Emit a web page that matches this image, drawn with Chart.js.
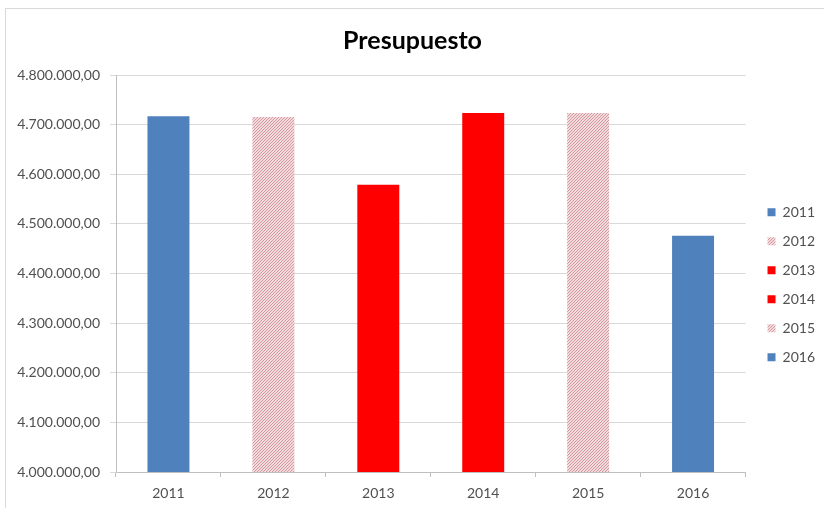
<!DOCTYPE html>
<html lang="es">
<head>
    <meta charset="UTF-8">
    <title>Presupuesto</title>
    <style>
        html, body { margin: 0; padding: 0; background: #fff; overflow: hidden; }
        #wrap { position: relative; width: 824px; height: 508px; overflow: hidden; }
        #frame { position: absolute; left: 5px; top: 8px; width: 870px; height: 530px; border: 1px solid #d9d9d9; pointer-events: none; }
        canvas { position: absolute; left: 0; top: 0; }
    </style>
</head>
<body>
<div id="wrap">
    <div id="frame"></div>
    <canvas id="chart" width="840" height="508"></canvas>
</div>

<script src="https://cdn.jsdelivr.net/npm/chart.js"></script>
<script>
    // datos
    const years = ['2011', '2012', '2013', '2014', '2015', '2016'];
    const budget = [4716700, 4715500, 4578600, 4723600, 4723600, 4476000];
    const yMin = 4000000;
    const yMax = 4800000;
    const yStep = 100000;

    const fontFamily = 'Lato, "Open Sans", sans-serif';
    const textColor = '#505050';

    // relleno rayado (diagonal hacia arriba), rosa palido
    function hatchPattern() {
        const c = document.createElement('canvas');
        c.width = 3;
        c.height = 3;
        const g = c.getContext('2d');
        g.fillStyle = '#f2dadc';
        g.fillRect(0, 0, 3, 3);
        g.fillStyle = '#d49aa0';
        for (let i = 0; i < 3; i++) {
            g.fillRect(i, 2 - i, 1, 1);
        }
        return g.createPattern(c, 'repeat');
    }

    const blue = '#4f81bd';
    const red = '#ff0000';
    const hatch = hatchPattern();
    const fills = [blue, hatch, red, red, hatch, blue];

    function fmt(v) {
        const s = Math.round(v).toString().replace(/\B(?=(\d{3})+(?!\d))/g, '.');
        return s + ',00';
    }

    const ctx = document.getElementById('chart');

    new Chart(ctx, {
        type: 'bar',
        data: {
            labels: years,
            datasets: [
                {
                    label: 'Presupuesto',
                    data: budget,
                    backgroundColor: fills,
                    borderWidth: 0,
                    barPercentage: 0.4,
                    categoryPercentage: 1
                }
            ]
        },
        options: {
            responsive: false,
            animation: false,
            layout: { padding: { left: 0, right: 15, top: 0, bottom: 0 } },
            plugins: {
                title: {
                    display: true,
                    text: 'Presupuesto',
                    color: '#000',
                    font: { family: fontFamily, size: 25, weight: 'bold' },
                    padding: { top: 26, bottom: 19 }
                },
                legend: {
                    position: 'right',
                    align: 'center',
                    fullSize: false,
                    onClick: null,
                    title: { display: true, text: '', padding: { top: 8, bottom: 0 } },
                    labels: {
                        boxWidth: 8,
                        boxHeight: 8,
                        padding: 15,
                        color: textColor,
                        font: { family: fontFamily, size: 14 },
                        generateLabels: () => years.map((y, i) => ({
                            text: y,
                            fillStyle: fills[i],
                            strokeStyle: 'rgba(0,0,0,0)',
                            lineWidth: 0,
                            hidden: false,
                            index: i,
                            fontColor: textColor
                        }))
                    }
                },
                tooltip: { enabled: false }
            },
            scales: {
                x: {
                    grid: { drawOnChartArea: false, drawTicks: true, tickLength: 5, color: '#bfbfbf' },
                    border: { color: '#bfbfbf' },
                    ticks: { color: textColor, font: { family: fontFamily, size: 14 }, padding: 8 },
                    afterFit: s => { s.height = 36; }
                },
                y: {
                    min: yMin,
                    max: yMax,
                    grid: { color: '#d9d9d9', tickLength: 6 },
                    border: { color: '#bfbfbf' },
                    ticks: {
                        stepSize: yStep,
                        color: textColor,
                        font: { family: fontFamily, size: 14 },
                        padding: 10,
                        callback: v => fmt(v)
                    },
                    afterFit: s => { s.width = 116; }
                },
                // hueco entre el area de trazado y la leyenda
                gap: {
                    position: 'right',
                    display: true,
                    grid: { display: false },
                    border: { display: false },
                    ticks: { display: false },
                    afterFit: s => { s.width = 7; }
                }
            }
        }
    });
</script>
</body>
</html>
